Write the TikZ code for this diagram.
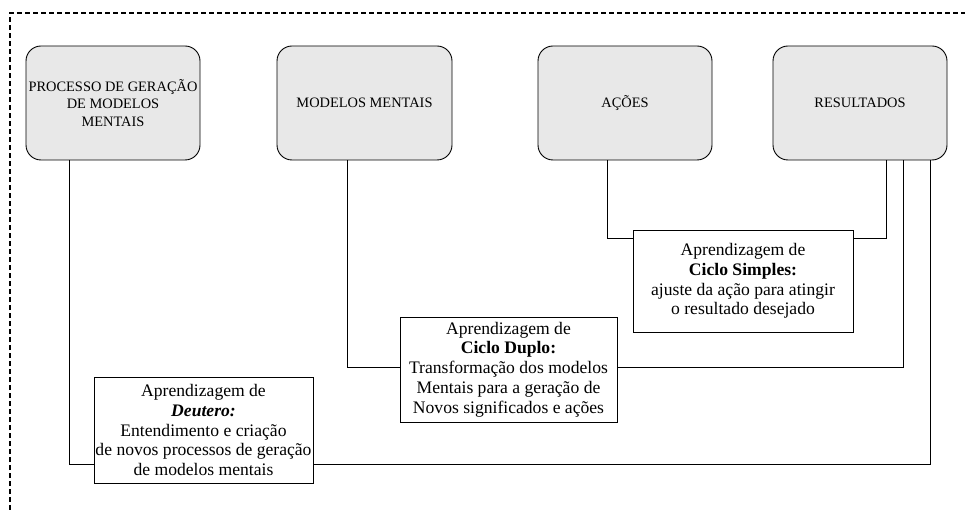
\documentclass[tikz,border=0pt]{standalone}
\usepackage{fontspec}
\setmainfont{Liberation Serif}
\usetikzlibrary{shadows}
\begin{document}
\begin{tikzpicture}[x=1pt,y=-1pt,
  topbox/.style={draw=black, line width=0.9pt, fill=gray!18, rounded corners=15pt,
    minimum width=174pt, minimum height=114pt, inner sep=0pt, align=center,
    font=\fontsize{14.4}{17.5}\selectfont},
  lowbox/.style={draw=black, line width=0.9pt, fill=white, inner sep=0pt, align=center,
    font=\fontsize{17.6}{19.8}\selectfont,
    drop shadow={shadow xshift=1.2pt, shadow yshift=-1.2pt, fill=black!70, opacity=1}},
  conn/.style={draw=black, line width=0.9pt}]
\useasboundingbox (0,0) rectangle (965,510);
\draw[line width=1.4pt, dash pattern=on 5pt off 3pt] (10,510) -- (10,13) -- (965,13);

\node[topbox] (p) at (113,103) {PROCESSO DE GERAÇÃO\\DE MODELOS\\MENTAIS};
\node[topbox, minimum width=175pt] (m) at (364.5,103) {MODELOS MENTAIS};
\node[topbox] (a) at (625,103) {AÇÕES};
\node[topbox] (r) at (860,103) {RESULTADOS};

\coordinate (sy) at (0,238);
\coordinate (dy) at (0,367);
\coordinate (ty) at (0,464);

\coordinate (a1) at ([xshift=-18pt]a.south);
\coordinate (r1) at ([xshift=26pt]r.south);
\coordinate (m1) at ([xshift=-17.5pt]m.south);
\coordinate (r2) at ([xshift=43pt]r.south);
\coordinate (p1) at ([xshift=-44pt]p.south);
\coordinate (r3) at ([xshift=70pt]r.south);

\draw[conn] (a1) -- (a1 |- sy) -- (r1 |- sy) -- (r1);
\draw[conn] (m1) -- (m1 |- dy) -- (r2 |- dy) -- (r2);
\draw[conn] (p1) -- (p1 |- ty) -- (r3 |- ty) -- (r3);

\node[lowbox, minimum width=220pt, minimum height=102pt] (s) at (743,281)
  {Aprendizagem de\\\textbf{Ciclo Simples:}\\ajuste da ação para atingir\\o resultado desejado};
\node[lowbox, minimum width=217pt, minimum height=105pt] (d) at (508.5,369.5)
  {Aprendizagem de\\\textbf{Ciclo Duplo:}\\Transformação dos modelos\\Mentais para a geração de\\Novos significados e ações};
\node[lowbox, minimum width=219pt, minimum height=106pt] (t) at (203.5,430)
  {Aprendizagem de\\\textbf{\textit{Deutero:}}\\Entendimento e criação\\de novos processos de geração\\de modelos mentais};
\end{tikzpicture}
\end{document}
